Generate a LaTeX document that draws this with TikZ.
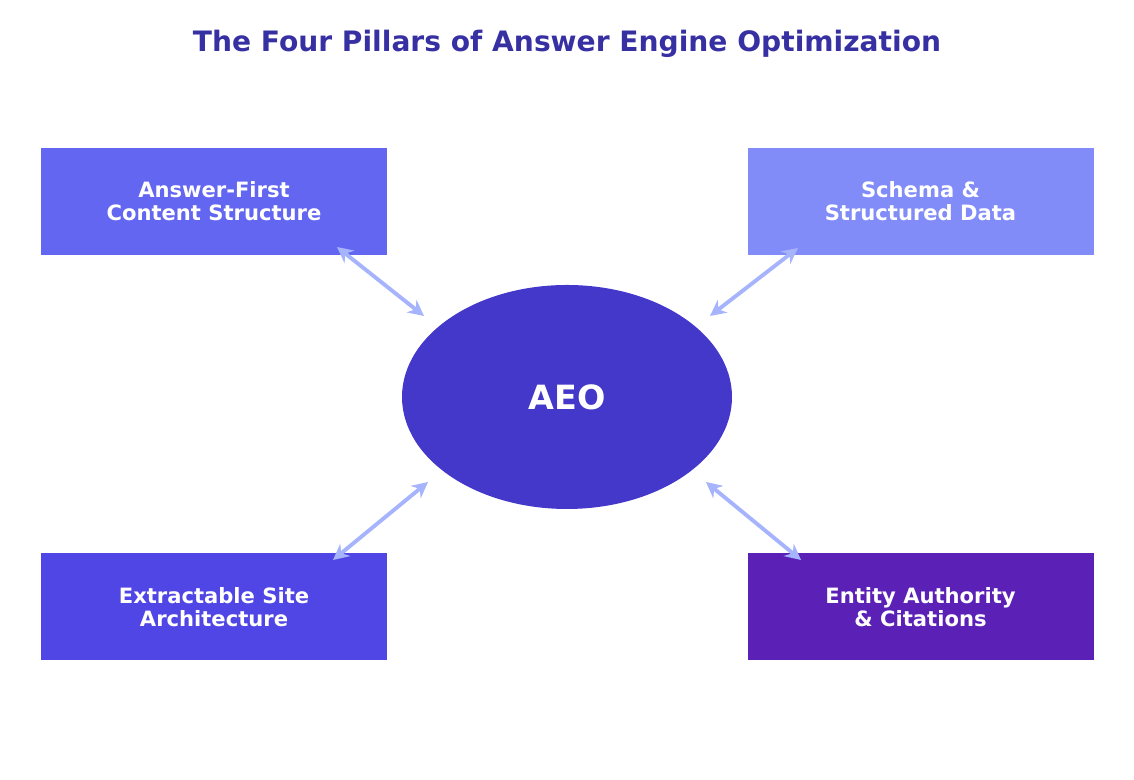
\documentclass[tikz,border=0pt]{standalone}
\usepackage{fontspec}
\setmainfont{DejaVu Sans}
\usetikzlibrary{shapes.geometric,arrows.meta}
\definecolor{titleblue}{HTML}{3730A3}
\definecolor{pillarA}{HTML}{6366F1}
\definecolor{pillarB}{HTML}{818CF8}
\definecolor{pillarC}{HTML}{4F46E5}
\definecolor{pillarD}{HTML}{5B21B6}
\definecolor{hub}{HTML}{4338CA}
\definecolor{link}{HTML}{A5B4FC}
\tikzset{
  pillar/.style={rectangle, minimum width=6.92cm, minimum height=2.14cm, align=center,
    text=white, font=\bfseries\fontsize{12}{13}\selectfont},
  biarrow/.style={draw=link, line width=2.2pt, {Stealth[length=9pt,width=9pt]}-{Stealth[length=9pt,width=9pt]}}
}
\begin{document}
\begin{tikzpicture}[auto]
    \useasboundingbox (0,0) rectangle (22.68,15.6);

    \node (title) at (11.34, 14.72) {\bfseries\fontsize{16}{18}\selectfont\color{titleblue}The Four Pillars of Answer Engine Optimization};

    \node [ellipse, fill=hub, minimum width=6.6cm, minimum height=4.48cm, text=white,
      font=\bfseries\fontsize{19}{21}\selectfont] (aeo) at (11.34, 7.66) {AEO};

    \node [pillar, fill=pillarA] (a) at (4.28, 11.57) {Answer-First\\Content Structure};
    \node [pillar, fill=pillarB] (b) at (18.41, 11.57) {Schema \&\\Structured Data};
    \node [pillar, fill=pillarC] (c) at (4.28, 3.46) {Extractable Site\\Architecture};
    \node [pillar, fill=pillarD] (d) at (18.41, 3.46) {Entity Authority\\\& Citations};

    \coordinate (a1) at (6.74, 10.66);
    \coordinate (a2) at (8.48, 9.28);
    \coordinate (b1) at (15.96, 10.64);
    \coordinate (b2) at (14.2, 9.28);
    \coordinate (c1) at (6.66, 4.4);
    \coordinate (c2) at (8.56, 5.96);
    \coordinate (d1) at (16.02, 4.4);
    \coordinate (d2) at (14.12, 5.96);

    \draw [biarrow] (a1) -- (a2);
    \draw [biarrow] (b1) -- (b2);
    \draw [biarrow] (c1) -- (c2);
    \draw [biarrow] (d1) -- (d2);

\end{tikzpicture}
\end{document}
